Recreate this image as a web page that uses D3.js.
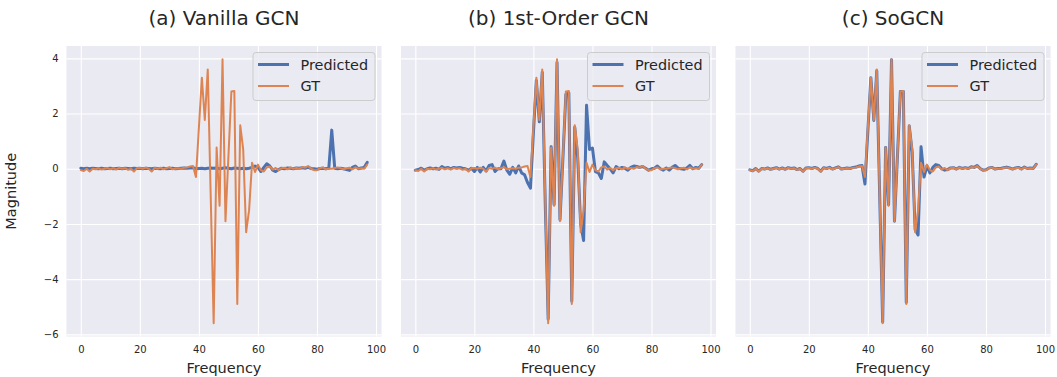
<!DOCTYPE html>
<html>
<head>
<meta charset="utf-8">
<script src="https://cdn.jsdelivr.net/npm/d3@7"></script>
<style>
  html, body { margin: 0; padding: 0; background: #ffffff; }
  svg { display: block; }
  text { font-family: "DejaVu Sans", sans-serif; fill: #262626; }
</style>
</head>
<body>
<svg id="chart" width="1057" height="377"></svg>
<script>
// ---------------- data ----------------
const panelTitles = ["(a) Vanilla GCN", "(b) 1st-Order GCN", "(c) SoGCN"];
const seriesNames = ["Predicted", "GT"];
const xTicks = [0, 20, 40, 60, 80, 100];
const yTicks = [-6, -4, -2, 0, 2, 4];
const xLabel = "Frequency";
const yLabel = "Magnitude";

const groundTruth = [
  -0.05, -0.08, 0.00, -0.10, 0.00, -0.02, 0.02, -0.03, 0.00, 0.03,
  -0.02, 0.02, -0.03, 0.03, 0.00, 0.02, -0.04, 0.00, -0.10, 0.02,
  0.03, 0.00, 0.04, 0.00, -0.10, 0.03, 0.00, 0.04, -0.02, 0.02,
  0.06, -0.02, 0.00, 0.02, 0.00, 0.04, 0.05, 0.08, 0.10, -0.30,
  1.50, 3.30, 1.77, 3.60, -1.00, -5.60, 0.77, -1.34, 3.97, -1.90,
  0.45, 2.80, 2.82, -4.90, 1.58, 0.70, -2.30, -1.50, 0.22, -0.12,
  0.15, -0.05, -0.10, 0.05, 0.08, -0.03, 0.03, -0.05, 0.02, 0.04,
  -0.02, 0.05, 0.00, 0.03, 0.00, 0.06, 0.04, 0.10, 0.00, -0.05,
  -0.05, 0.02, 0.05, -0.02, 0.00, 0.00, 0.03, 0.05, 0.02, -0.02,
  0.02, 0.04, -0.02, 0.05, 0.00, 0.02, 0.00, 0.15
];

const predVanilla = [
  0.02, 0.00, 0.02, 0.00, 0.02, 0.01, 0.00, 0.02, 0.00, 0.01,
  0.02, 0.00, 0.01, 0.02, 0.00, 0.02, 0.01, 0.00, 0.02, 0.01,
  0.02, 0.00, 0.02, 0.01, 0.00, 0.02, 0.01, 0.00, 0.02, 0.00,
  0.01, 0.02, 0.00, 0.01, 0.02, 0.03, 0.02, 0.03, 0.04, 0.00,
  0.01, 0.02, 0.00, 0.02, 0.03, 0.02, 0.03, 0.00, 0.02, 0.04,
  0.02, 0.00, 0.03, 0.02, 0.00, 0.02, 0.00, 0.02, 0.05, 0.10,
  0.05, -0.10, 0.05, 0.18, 0.10, -0.05, -0.10, -0.03, 0.02, 0.00,
  0.03, 0.02, 0.00, 0.03, 0.02, 0.04, 0.02, 0.05, 0.01, 0.00,
  -0.02, 0.01, 0.02, 0.00, 0.02, 1.40, 0.02, 0.00, 0.02, 0.00,
  -0.03, -0.06, 0.05, 0.10, 0.00, 0.03, 0.05, 0.23
];

const pred1stOrder = [
  -0.05, -0.03, 0.02, -0.05, 0.00, 0.03, 0.00, 0.02, -0.02, 0.08,
  0.02, 0.05, 0.00, 0.05, 0.03, 0.05, 0.02, 0.00, -0.05, 0.02,
  -0.10, 0.05, -0.12, 0.05, -0.08, 0.12, 0.15, -0.10, 0.00, 0.00,
  0.28, -0.05, -0.20, 0.05, -0.15, 0.10, -0.15, -0.22, -0.50, -0.70,
  1.30, 3.20, 1.70, 3.50, -1.20, -5.45, 0.80, -1.30, 3.85, -1.85,
  0.40, 2.70, 2.75, -4.80, 1.50, 0.40, -2.00, -2.60, 2.30, 0.70,
  0.75, -0.10, -0.15, -0.35, 0.25, 0.12, 0.00, -0.15, 0.08, 0.00,
  0.05, 0.02, -0.05, 0.05, 0.10, 0.08, 0.05, 0.08, 0.02, -0.05,
  0.00, 0.02, 0.10, 0.00, -0.05, 0.03, -0.05, 0.05, 0.12, 0.02,
  0.00, -0.02, 0.03, 0.12, 0.00, 0.05, 0.02, 0.15
];

const predSoGCN = [
  -0.04, -0.07, 0.01, -0.09, 0.01, -0.01, 0.03, -0.02, 0.01, 0.04,
  -0.01, 0.03, -0.02, 0.04, 0.01, 0.03, -0.03, 0.01, -0.09, 0.03,
  0.04, 0.01, 0.05, 0.01, -0.09, 0.04, 0.01, 0.05, -0.01, 0.03,
  0.07, -0.01, 0.01, 0.03, 0.01, 0.05, 0.06, 0.10, 0.12, -0.55,
  1.40, 3.30, 1.75, 3.55, -1.00, -5.55, 0.77, -1.30, 3.95, -1.90,
  0.45, 2.80, 2.80, -4.85, 1.55, 0.60, -2.20, -2.40, 0.80, -0.30,
  0.10, -0.15, 0.05, 0.15, 0.12, 0.00, -0.05, -0.03, 0.03, 0.04,
  -0.01, 0.05, 0.01, 0.04, 0.01, 0.07, 0.05, 0.12, 0.01, -0.05,
  -0.04, 0.03, 0.05, -0.01, 0.01, 0.01, 0.04, 0.06, 0.03, -0.01,
  0.03, 0.05, -0.01, 0.06, 0.01, 0.03, 0.01, 0.16
];

const predictions = [predVanilla, pred1stOrder, predSoGCN];
const frequency = d3.range(groundTruth.length);

// ---------------- layout ----------------
const colors = { pred: "#4c72b0", gt: "#dd8452" };
const panelLefts = [66.5, 401, 735.5];
const panelW = 315, plotTop = 46, panelH = 290.5;

const svg = d3.select("#chart");

const xExt = d3.extent(frequency);
const xPad = (xExt[1] - xExt[0]) * 0.05;
const allVals = groundTruth.concat(predVanilla, pred1stOrder, predSoGCN);
const yExt = d3.extent(allVals);
const yPad = (yExt[1] - yExt[0]) * 0.05;

const y = d3.scaleLinear().domain([yExt[0] - yPad, yExt[1] + yPad]).range([plotTop + panelH, plotTop]);

const fmt = v => (v < 0 ? "\u2212" + Math.abs(v) : String(v));

panelTitles.forEach((title, p) => {
  const left = panelLefts[p];
  const x = d3.scaleLinear().domain([xExt[0] - xPad, xExt[1] + xPad]).range([left, left + panelW]);
  const g = svg.append("g");

  g.append("rect").attr("x", left).attr("y", plotTop).attr("width", panelW).attr("height", panelH)
    .attr("fill", "#eaeaf2");

  const gx = g.append("g").attr("transform", `translate(0,${plotTop + panelH})`)
    .call(d3.axisBottom(x).tickValues(xTicks).tickSize(-panelH).tickPadding(9).tickFormat(fmt));
  gx.select(".domain").remove();
  gx.selectAll("line").attr("stroke", "#ffffff").attr("stroke-width", 1.1);
  gx.selectAll("text").attr("font-size", "10px").attr("fill", "#262626")
    .attr("font-family", "DejaVu Sans");

  const gy = g.append("g").attr("transform", `translate(${left},0)`)
    .call(d3.axisLeft(y).tickValues(yTicks).tickSize(-panelW).tickPadding(8).tickFormat(fmt));
  gy.select(".domain").remove();
  gy.selectAll("line").attr("stroke", "#ffffff").attr("stroke-width", 1.1);
  gy.selectAll("text").attr("font-size", "10px").attr("fill", "#262626")
    .attr("font-family", "DejaVu Sans");
  if (p > 0) gy.selectAll("text").remove();

  const line = d3.line().x((d, i) => x(frequency[i])).y(d => y(d));

  g.append("path").datum(predictions[p]).attr("d", line)
    .attr("fill", "none").attr("stroke", colors.pred).attr("stroke-width", 3)
    .attr("stroke-linejoin", "round").attr("stroke-linecap", "round");
  g.append("path").datum(groundTruth).attr("d", line)
    .attr("fill", "none").attr("stroke", colors.gt).attr("stroke-width", 2)
    .attr("stroke-linejoin", "round").attr("stroke-linecap", "round");

  g.append("text").attr("x", left + panelW / 2).attr("y", 25)
    .attr("text-anchor", "middle").attr("font-size", "20px").text(title);

  g.append("text").attr("x", left + panelW / 2).attr("y", 373)
    .attr("text-anchor", "middle").attr("font-size", "14.5px").text(xLabel);

  const lgRight = left + panelW - 6.5, lgTop = plotTop + 6.5;
  const lgW = 122, lgH = 48;
  const lg = g.append("g").attr("transform", `translate(${lgRight - lgW},${lgTop})`);
  lg.append("rect").attr("width", lgW).attr("height", lgH).attr("rx", 3).attr("ry", 3)
    .attr("fill", "#eaeaf2").attr("fill-opacity", 0.8).attr("stroke", "#cccccc").attr("stroke-width", 1);
  const items = [{ name: seriesNames[0], c: colors.pred, w: 3 }, { name: seriesNames[1], c: colors.gt, w: 2 }];
  items.forEach((it, i) => {
    const yy = 12 + i * 21.5;
    lg.append("line").attr("x1", 5).attr("x2", 36).attr("y1", yy).attr("y2", yy)
      .attr("stroke", it.c).attr("stroke-width", it.w);
    lg.append("text").attr("x", 47.5).attr("y", yy).attr("dy", "0.36em")
      .attr("font-size", "14.4px").text(it.name);
  });
});

svg.append("text").attr("transform", `translate(16,${plotTop + panelH / 2}) rotate(-90)`)
  .attr("text-anchor", "middle").attr("font-size", "14.5px").text(yLabel);
</script>
</body>
</html>
